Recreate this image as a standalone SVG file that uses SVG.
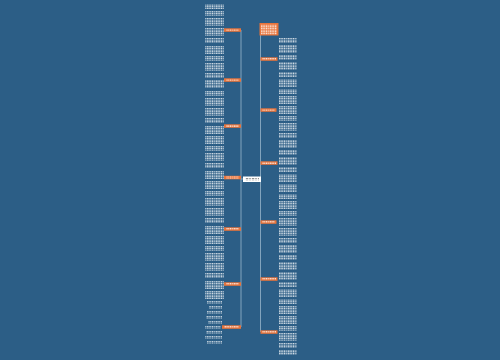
<svg xmlns="http://www.w3.org/2000/svg" width="500" height="360" viewBox="0 0 500 360">
<defs>
<pattern id="txt" patternUnits="userSpaceOnUse" width="9" height="2.5">
<rect x="0" y="0.4" width="1.6" height="1.5" fill="#ffffff" opacity="0.85"/>
<rect x="2.1" y="0.4" width="2.2" height="1.5" fill="#ffffff" opacity="0.7"/>
<rect x="4.8" y="0.4" width="1.5" height="1.5" fill="#ffffff" opacity="0.9"/>
<rect x="6.8" y="0.4" width="1.8" height="1.5" fill="#ffffff" opacity="0.65"/>
</pattern>
<pattern id="dtxt" patternUnits="userSpaceOnUse" width="6" height="2.5">
<rect x="0" y="0.5" width="2" height="1.3" fill="#777777"/>
<rect x="2.6" y="0.5" width="2.6" height="1.3" fill="#999999"/>
</pattern>
</defs>
<style>
.tb{fill:url(#txt)}
.on rect.b{fill:#e8743b}
.ot{fill:url(#txt)}
.ln{stroke:#a9c3d6;stroke-width:0.7;fill:none}
</style>
<rect width="500" height="360" fill="#2c5e86"/>
<g id="connectors">
<path class="ln" d="M241 30V327"/>
<path class="ln" d="M260.5 30V332"/>
<path class="ln" d="M241 179H243M260.5 179H261"/>
</g>
<g id="center">
<rect x="243" y="176.5" width="18" height="5.5" fill="#ffffff"/>
<rect x="245" y="178" width="14" height="2.5" fill="url(#dtxt)"/>
</g>
<g id="top">
<rect x="259.5" y="23" width="19" height="12.5" fill="#e8743b"/>
<rect x="261" y="24.5" width="16" height="10" class="ot"/>
</g>
<g id="left-nodes" class="on">
<g id="l1"><rect class="b" x="224" y="28.3" width="17" height="3.5"/><rect class="ot" x="226" y="29" width="13" height="2"/></g>
<g id="l2"><rect class="b" x="224" y="78.3" width="17" height="3.5"/><rect class="ot" x="226" y="79" width="13" height="2"/></g>
<g id="l3"><rect class="b" x="224" y="124.3" width="17" height="3.5"/><rect class="ot" x="226" y="125" width="13" height="2"/></g>
<g id="l4"><rect class="b" x="224" y="175.8" width="17" height="3.5"/><rect class="ot" x="226" y="176.5" width="13" height="2"/></g>
<g id="l5"><rect class="b" x="224" y="227.3" width="17" height="3.5"/><rect class="ot" x="226" y="228" width="13" height="2"/></g>
<g id="l6"><rect class="b" x="224" y="282.3" width="17" height="3.5"/><rect class="ot" x="226" y="283" width="13" height="2"/></g>
<g id="l7"><rect class="b" x="222" y="325.3" width="19" height="3.5"/><rect class="ot" x="224" y="326" width="15" height="2"/></g>
</g>
<g id="right-nodes" class="on">
<g id="r1"><rect class="b" x="260.5" y="57.3" width="17" height="3.5"/><rect class="ot" x="262" y="58" width="14" height="2"/></g>
<g id="r2"><rect class="b" x="260.5" y="108.3" width="16" height="3.5"/><rect class="ot" x="262" y="109" width="13" height="2"/></g>
<g id="r3"><rect class="b" x="260.5" y="161.3" width="17" height="3.5"/><rect class="ot" x="262" y="162" width="14" height="2"/></g>
<g id="r4"><rect class="b" x="260.5" y="220.3" width="16" height="3.5"/><rect class="ot" x="262" y="221" width="13" height="2"/></g>
<g id="r5"><rect class="b" x="260.5" y="277.3" width="17" height="3.5"/><rect class="ot" x="262" y="278" width="14" height="2"/></g>
<g id="r6"><rect class="b" x="260.5" y="330.3" width="17" height="3.5"/><rect class="ot" x="262" y="331" width="14" height="2"/></g>
</g>
<g id="left-leaves">
<rect class="tb" x="205" y="4" width="19" height="5"/>
<rect class="tb" x="205" y="11" width="19" height="5"/>
<rect class="tb" x="205" y="18" width="19" height="8"/>
<rect class="tb" x="205" y="28" width="19" height="8"/>
<rect class="tb" x="205" y="38" width="19" height="5"/>
<rect class="tb" x="205" y="46" width="19" height="8"/>
<rect class="tb" x="205" y="56" width="19" height="5"/>
<rect class="tb" x="205" y="63" width="19" height="8"/>
<rect class="tb" x="205" y="73" width="19" height="5"/>
<rect class="tb" x="205" y="80" width="19" height="8"/>
<rect class="tb" x="205" y="91" width="19" height="5"/>
<rect class="tb" x="205" y="98" width="19" height="8"/>
<rect class="tb" x="205" y="108" width="19" height="8"/>
<rect class="tb" x="205" y="118" width="19" height="5"/>
<rect class="tb" x="205" y="126" width="19" height="8"/>
<rect class="tb" x="205" y="136" width="19" height="8"/>
<rect class="tb" x="205" y="146" width="19" height="5"/>
<rect class="tb" x="205" y="153" width="19" height="8"/>
<rect class="tb" x="205" y="163" width="19" height="5"/>
<rect class="tb" x="205" y="171" width="19" height="8"/>
<rect class="tb" x="205" y="181" width="19" height="8"/>
<rect class="tb" x="205" y="191" width="19" height="5"/>
<rect class="tb" x="205" y="198" width="19" height="8"/>
<rect class="tb" x="205" y="208" width="19" height="8"/>
<rect class="tb" x="205" y="218" width="19" height="5"/>
<rect class="tb" x="205" y="226" width="19" height="8"/>
<rect class="tb" x="205" y="236" width="19" height="8"/>
<rect class="tb" x="205" y="246" width="19" height="5"/>
<rect class="tb" x="205" y="253" width="19" height="8"/>
<rect class="tb" x="205" y="263" width="19" height="8"/>
<rect class="tb" x="205" y="273" width="19" height="5"/>
<rect class="tb" x="205" y="281" width="19" height="8"/>
<rect class="tb" x="205" y="291" width="19" height="8"/>
<rect class="tb" x="207" y="301" width="15" height="2.5"/>
<rect class="tb" x="209" y="306" width="13" height="2.5"/>
<rect class="tb" x="207" y="311" width="15" height="2.5"/>
<rect class="tb" x="206" y="316" width="16" height="2.5"/>
<rect class="tb" x="208" y="321" width="14" height="2.5"/>
<rect class="tb" x="205" y="326" width="16" height="2.5"/>
<rect class="tb" x="206" y="331" width="16" height="2.5"/>
<rect class="tb" x="205" y="336" width="17" height="2.5"/>
<rect class="tb" x="207" y="341" width="15" height="2.5"/>
</g>
<g id="right-leaves">
<rect class="tb" x="279" y="38" width="18" height="5"/>
<rect class="tb" x="279" y="45" width="18" height="8"/>
<rect class="tb" x="279" y="55" width="18" height="5"/>
<rect class="tb" x="279" y="62" width="18" height="8"/>
<rect class="tb" x="279" y="72" width="18" height="5"/>
<rect class="tb" x="279" y="79" width="18" height="8"/>
<rect class="tb" x="279" y="89" width="18" height="5"/>
<rect class="tb" x="279" y="96" width="18" height="8"/>
<rect class="tb" x="279" y="106" width="18" height="8"/>
<rect class="tb" x="279" y="116" width="18" height="5"/>
<rect class="tb" x="279" y="123" width="18" height="8"/>
<rect class="tb" x="279" y="133" width="18" height="5"/>
<rect class="tb" x="279" y="140" width="18" height="8"/>
<rect class="tb" x="279" y="150" width="18" height="5"/>
<rect class="tb" x="279" y="157" width="18" height="8"/>
<rect class="tb" x="279" y="167" width="18" height="5"/>
<rect class="tb" x="279" y="174" width="18" height="8"/>
<rect class="tb" x="279" y="184" width="18" height="8"/>
<rect class="tb" x="279" y="194" width="18" height="5"/>
<rect class="tb" x="279" y="201" width="18" height="8"/>
<rect class="tb" x="279" y="211" width="18" height="5"/>
<rect class="tb" x="279" y="218" width="18" height="8"/>
<rect class="tb" x="279" y="228" width="18" height="8"/>
<rect class="tb" x="279" y="238" width="18" height="5"/>
<rect class="tb" x="279" y="245" width="18" height="8"/>
<rect class="tb" x="279" y="255" width="18" height="5"/>
<rect class="tb" x="279" y="262" width="18" height="8"/>
<rect class="tb" x="279" y="272" width="18" height="8"/>
<rect class="tb" x="279" y="282" width="18" height="5"/>
<rect class="tb" x="279" y="289" width="18" height="8"/>
<rect class="tb" x="279" y="299" width="18" height="5"/>
<rect class="tb" x="279" y="306" width="18" height="8"/>
<rect class="tb" x="279" y="316" width="18" height="8"/>
<rect class="tb" x="279" y="326" width="18" height="5"/>
<rect class="tb" x="279" y="333" width="18" height="8"/>
<rect class="tb" x="279" y="343" width="18" height="5"/>
<rect class="tb" x="279" y="350" width="18" height="5"/>
</g>
</svg>
